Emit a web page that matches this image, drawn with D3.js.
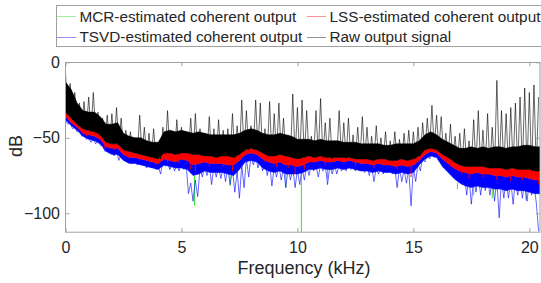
<!DOCTYPE html>
<html>
<head>
<meta charset="utf-8">
<script src="https://cdn.jsdelivr.net/npm/d3@7"></script>
<style>
  body { margin: 0; background: #fff; }
  svg text { font-family: "Liberation Sans", Arial, sans-serif; fill: #262626; }
</style>
</head>
<body>
<svg width="541" height="283"></svg>
<script>
// coarse frequency grid (kHz) for the dense band edges
let freqs = [0,0.25,0.5,0.75,1,1.25,1.5,1.75,2,2.25,2.5,2.75,3,3.25,3.5,3.75,4,4.25,4.5,4.75,
  5,5.25,5.5,5.75,6,6.25,6.5,6.75,7,7.25,7.5,7.75,8,8.25,8.5,8.75,9,9.25,9.5,9.75,
  10,10.25,10.5,10.75,11,11.25,11.5,11.75,12,12.25,12.5,12.75,13,13.25,13.5,13.75,14,14.25,14.5,14.75,
  15,15.25,15.5,15.75,16,16.25,16.5,16.75,17,17.25,17.5,17.75,18,18.25,18.5,18.75,19,19.25,19.5,19.75,
  20,20.25,20.5]

// raw output signal: upper / lower edge of the dense part (dB)
let rawTop = [-13,-18,-27,-32,-33,-33,-36,-41,-41,-40,-47,-49,-50,-50,-52,-53,-53,-46,-45,-46,
  -45,-46,-47,-46,-47,-48,-48,-48,-48,-48,-47,-45,-44,-45,-47,-48,-48,-47,-48,-49,
  -51,-51,-51,-52,-51,-52,-52,-52,-53,-53,-53,-54,-54,-54,-54,-55,-55,-54,-54,-54,
  -54,-52,-48,-46,-48,-51,-53,-55,-57,-57,-56,-57,-56,-57,-56,-56,-57,-56,-56,-55,
  -55,-56,-56]
let rawBottom = [-33,-37,-41,-44,-45,-46,-48,-53,-54,-54,-58,-59,-60,-61,-62,-63,-64,-60,-60,-61,
  -60,-60,-61,-61,-62,-62,-63,-62,-62,-63,-61,-58,-57,-58,-60,-62,-62,-61,-62,-63,
  -64,-63,-62,-63,-62,-63,-63,-63,-63,-63,-64,-64,-64,-65,-64,-64,-65,-65,-64,-65,
  -64,-62,-58,-57,-58,-61,-63,-66,-68,-69,-69,-69,-69,-70,-70,-70,-71,-70,-71,-71,
  -71,-72,-72]
// LSS-estimated coherent output, lower edge
let lssBottom = [-36,-40,-43,-47,-48,-49,-51,-56,-57,-57,-61,-63,-63,-64,-65,-66,-67,-64,-65,-66,
  -64,-65,-68,-67,-66,-67,-67,-67,-68,-68,-65,-61,-60,-61,-64,-66,-67,-66,-68,-68,
  -69,-68,-66,-66,-65,-66,-66,-65,-66,-65,-66,-67,-67,-68,-67,-68,-68,-69,-68,-69,
  -68,-65,-61,-59,-60,-64,-67,-70,-72,-73,-74,-73,-74,-74,-75,-75,-76,-75,-76,-76,
  -77,-78,-78]
// TSVD-estimated coherent output, lower edge of the solid part
let tsvdBottom = [-38,-42,-45,-49,-51,-52,-54,-59,-61,-61,-65,-67,-67,-68,-69,-70,-71,-68,-69,-70,
  -70,-71,-75,-74,-72,-73,-73,-73,-74,-75,-71,-66,-65,-66,-70,-72,-73,-72,-74,-74,
  -74,-73,-71,-71,-70,-71,-71,-70,-71,-70,-71,-72,-72,-73,-72,-73,-73,-74,-73,-74,
  -73,-68,-64,-62,-63,-69,-73,-77,-80,-82,-83,-82,-83,-83,-84,-84,-85,-84,-85,-85,
  -86,-87,-87]

// fine frequency grid (kHz) for the noisy traces
let fineFreqs = [0,0.1,0.2,0.3,0.4,0.5,0.6,0.7,0.8,0.9,
  1,1.1,1.2,1.3,1.4,1.5,1.6,1.7,1.8,1.9,
  2,2.1,2.2,2.3,2.4,2.5,2.6,2.7,2.8,2.9,
  3,3.1,3.2,3.3,3.4,3.5,3.6,3.7,3.8,3.9,
  4,4.1,4.2,4.3,4.4,4.5,4.6,4.7,4.8,4.9,
  5,5.1,5.2,5.3,5.4,5.5,5.6,5.7,5.8,5.9,
  6,6.1,6.2,6.3,6.4,6.5,6.6,6.7,6.8,6.9,
  7,7.1,7.2,7.3,7.4,7.5,7.6,7.7,7.8,7.9,
  8,8.1,8.2,8.3,8.4,8.5,8.6,8.7,8.8,8.9,
  9,9.1,9.2,9.3,9.4,9.5,9.6,9.7,9.8,9.9,
  10,10.1,10.2,10.3,10.4,10.5,10.6,10.7,10.8,10.9,
  11,11.1,11.2,11.3,11.4,11.5,11.6,11.7,11.8,11.9,
  12,12.1,12.2,12.3,12.4,12.5,12.6,12.7,12.8,12.9,
  13,13.1,13.2,13.3,13.4,13.5,13.6,13.7,13.8,13.9,
  14,14.1,14.2,14.3,14.4,14.5,14.6,14.7,14.8,14.9,
  15,15.1,15.2,15.3,15.4,15.5,15.6,15.7,15.8,15.9,
  16,16.1,16.2,16.3,16.4,16.5,16.6,16.7,16.8,16.9,
  17,17.1,17.2,17.3,17.4,17.5,17.6,17.7,17.8,17.9,
  18,18.1,18.2,18.3,18.4,18.5,18.6,18.7,18.8,18.9,
  19,19.1,19.2,19.3,19.4,19.5,19.6,19.7,19.8,19.9,
  20,20.1,20.2,20.3,20.4]

// raw output signal trace: peaks and dips (dB)
let rawTrace = [-7,-35,-14,-38,-20,-40,-27,-43,-26,-45,
  -23,-46,-20,-47,-33,-49,-37,-52,-35,-54,
  -34,-54,-30,-55,-37,-57,-45,-58,-46,-59,
  -50,-60,-35,-61,-43,-62,-47,-63,-44,-63,
  -53,-64,-43,-61,-32,-60,-46,-61,-38,-61,
  -43,-60,-46,-60,-37,-61,-34,-61,-44,-62,
  -47,-62,-36,-62,-44,-63,-38,-62,-45,-62,
  -44,-62,-34,-63,-42,-61,-25,-59,-32,-58,
  -42,-57,-25,-58,-27,-60,-44,-61,-26,-62,
  -34,-62,-27,-61,-37,-62,-48,-63,-21,-63,
  -30,-64,-25,-63,-32,-62,-49,-63,-32,-62,
  -24,-63,-40,-63,-37,-64,-52,-63,-32,-63,
  -40,-64,-37,-63,-48,-64,-43,-64,-36,-64,
  -43,-64,-49,-65,-42,-64,-50,-64,-46,-65,
  -52,-65,-46,-65,-51,-64,-47,-65,-45,-64,
  -46,-64,-43,-62,-40,-58,-37,-57,-28.5,-57,
  -35,-58,-36,-61,-47,-63,-41,-65,-49,-66,
  -47,-68,-44,-69,-52,-69,-38,-69,-32,-69,
  -45,-69,-34,-70,-43,-70,-12,-70,-32,-70,
  -34,-71,-30,-70,-27,-71,-23,-71,-17,-71,
  -20,-72,-15,-72,-23]

// TSVD-estimated coherent output trace: shallow and deep dips (dB)
let tsvdTrace = [-38,-41,-40,-44,-43,-46,-45,-49,-48,-51,
  -50,-53,-51,-54,-52,-55,-55,-59,-57,-60,
  -59,-62,-59,-65,-61,-64,-63,-66,-63,-67,
  -65,-68,-65,-68,-66,-70,-67,-70,-68,-71,
  -69,-74,-66,-69,-67,-71,-67,-72,-68,-72,
  -67,-71,-67,-87,-80,-92,-78,-89,-70,-76,
  -69,-75,-68,-81,-69,-76,-69,-77,-69,-79,
  -70,-81,-71,-86,-72,-90,-68,-83,-64,-76,
  -62,-68,-62,-70,-64,-72,-66,-75,-67,-82,
  -69,-76,-68,-78,-70,-83,-70,-78,-70,-83,
  -71,-81,-70,-78,-68,-75,-68,-72,-68,-76,
  -68,-72,-68,-81,-68,-74,-68,-74,-68,-72,
  -68,-72,-67,-71,-68,-72,-68,-70,-69,-73,
  -69,-75,-69,-79,-70,-74,-69,-74,-70,-73,
  -70,-74,-70,-83,-70,-79,-71,-80,-71,-95,
  -70,-79,-67,-72,-63,-66,-61,-64,-60,-63,
  -62,-65,-64,-70,-67,-72,-69,-74,-71,-78,
  -74,-81,-75,-88,-76,-94,-76,-86,-75,-88,
  -76,-85,-76,-88,-77,-92,-77,-103,-77,-90,
  -78,-90,-78,-94,-78,-88,-78,-90,-79,-92,
  -79,-88,-80,-93,-112]

// isolated dips (kHz, dB)
let lssSpikeFreq = [0.9,1.7,2.1,2.6,3.2,3.9,4.4,4.9,5.4,5.6,6.2,6.8,7.2,8.6,9.1,9.6,9.9,10.3,11.2,12.5,
  13.3,14.3,14.9,16.6,17.1,17.4,18.0,18.6,19.2,19.7,20.4]
let lssSpikeDb = [-49,-57,-58,-62,-65,-68,-66,-67,-71,-73,-69,-69,-72,-66,-69,-70,-74,-71,-68,-69,
  -70,-71,-76,-69,-74,-77,-76,-78,-79,-78,-81]
let mcrSpikeFreq = [4.5,5.56,7.1,9.5,10.17,11.3,12.7,13.9,16.9,17.6,18.4,19.85]
let mcrSpikeDb = [-71,-95,-82,-83,-112.4,-77,-71,-73,-84,-88,-90,-91]

let legendNames = ['MCR-estimated coherent output','LSS-estimated coherent output',
  'TSVD-estimated coherent output','Raw output signal']
let xTicks = [0,5,10,15,20]
let yTicks = [-100,-50,0]

let svg = d3.select('svg')
let padLeft = 65.5, padRight = 540, padTop = 62.3, padBottom = 232
let axisGrey = '#a0a0a0'
let green = '#22dd22', red = '#ff0000', blue = '#0000ff', black = '#000000'

let xScale = d3.scaleLinear().domain([0, 20.46]).range([padLeft, padRight])
let yScale = d3.scaleLinear().domain([-112.4, 0]).range([padBottom, padTop])

svg.append('clipPath').attr('id', 'clip')
  .append('rect').attr('x', padLeft).attr('y', padTop)
  .attr('width', padRight - padLeft).attr('height', padBottom - padTop)
let plot = svg.append('g').attr('clip-path', 'url(#clip)')

let nearest = (f) => d3.minIndex(freqs, g => Math.abs(g - f))

let drawBand = (upper, lower, color) => {
  let area = d3.area()
    .x((d, i) => xScale(freqs[i]))
    .y0((d, i) => yScale(lower[i]))
    .y1((d, i) => yScale(upper[i]))
  plot.append('path').datum(freqs)
    .attr('d', area)
    .attr('fill', color)
    .attr('stroke', color)
    .attr('stroke-width', 0.5)
}

let drawTrace = (vals, color, w, op) => {
  let line = d3.line()
    .x((d, i) => xScale(fineFreqs[i]))
    .y(d => yScale(d))
  plot.append('path').datum(vals)
    .attr('d', line)
    .attr('fill', 'none')
    .attr('stroke', color)
    .attr('stroke-width', w)
    .attr('opacity', op)
}

let drawSpikes = (fs, dbs, base, color, op) => {
  plot.append('g').selectAll('line')
    .data(fs)
    .enter()
    .append('line')
    .attr('x1', f => xScale(f))
    .attr('x2', f => xScale(f))
    .attr('y1', f => yScale(base[nearest(f)]))
    .attr('y2', (f, i) => yScale(dbs[i]))
    .attr('stroke', color)
    .attr('stroke-width', 1)
    .attr('opacity', op)
}

// back to front: MCR, TSVD, LSS, raw
drawSpikes(mcrSpikeFreq, mcrSpikeDb, tsvdBottom, green, 0.9)
drawTrace(tsvdTrace, blue, 0.8, 0.75)
drawBand(lssBottom, tsvdBottom, blue)
drawSpikes(lssSpikeFreq, lssSpikeDb, rawBottom, red, 0.9)
drawBand(rawBottom, lssBottom, red)
drawBand(rawTop, rawBottom, black)
drawTrace(rawTrace, black, 0.8, 0.75)

// axes, ticks pointing inward
let styleAxis = (g) => {
  g.select('.domain').remove()
  g.selectAll('.tick line').attr('stroke', axisGrey)
  g.selectAll('text').style('font-size', '16px').attr('fill', '#262626')
}
svg.append('g').attr('transform', 'translate(0,' + padBottom + ')')
  .call(d3.axisBottom(xScale).tickValues(xTicks).tickSize(-4).tickPadding(10))
  .call(styleAxis)
svg.append('g').attr('transform', 'translate(0,' + padTop + ')')
  .call(d3.axisTop(xScale).tickValues(xTicks).tickSize(-4).tickFormat(''))
  .call(styleAxis)
svg.append('g').attr('transform', 'translate(' + padLeft + ',0)')
  .call(d3.axisLeft(yScale).tickValues(yTicks).tickSize(-4).tickPadding(5.5))
  .call(styleAxis)
svg.append('g').attr('transform', 'translate(' + padRight + ',0)')
  .call(d3.axisRight(yScale).tickValues(yTicks).tickSize(-4).tickFormat(''))
  .call(styleAxis)

svg.append('rect')
  .attr('x', padLeft).attr('y', padTop + 0.2)
  .attr('width', padRight - padLeft).attr('height', padBottom - padTop)
  .attr('fill', 'none').attr('stroke', axisGrey).attr('stroke-width', 1)

svg.append('text')
  .attr('x', 304).attr('y', 273.5)
  .attr('text-anchor', 'middle')
  .style('font-size', '18px')
  .text('Frequency (kHz)')
svg.append('text')
  .attr('transform', 'translate(22,146) rotate(-90)')
  .attr('text-anchor', 'middle')
  .style('font-size', '18px')
  .text('dB')

// legend
let legend = svg.append('g')
legend.append('rect')
  .attr('x', 56.5).attr('y', 5.5).attr('width', 500).attr('height', 41)
  .attr('fill', '#fff').attr('stroke', axisGrey)
let legendColors = [green, red, blue, black]
let legendPos = [[57, 21.5], [307, 21.5], [57, 42], [307, 42]]
legendNames.forEach((name, i) => {
  let [lx, ly] = legendPos[i]
  legend.append('line')
    .attr('x1', lx).attr('x2', lx + 19)
    .attr('y1', Math.round(ly - 5.5) + 0.5).attr('y2', Math.round(ly - 5.5) + 0.5)
    .attr('stroke', legendColors[i]).attr('stroke-width', 0.7)
    .attr('opacity', 0.6)
  legend.append('text')
    .attr('x', lx + 22.5).attr('y', ly)
    .style('font-size', '15.3px')
    .text(name)
})
</script>
</body>
</html>
